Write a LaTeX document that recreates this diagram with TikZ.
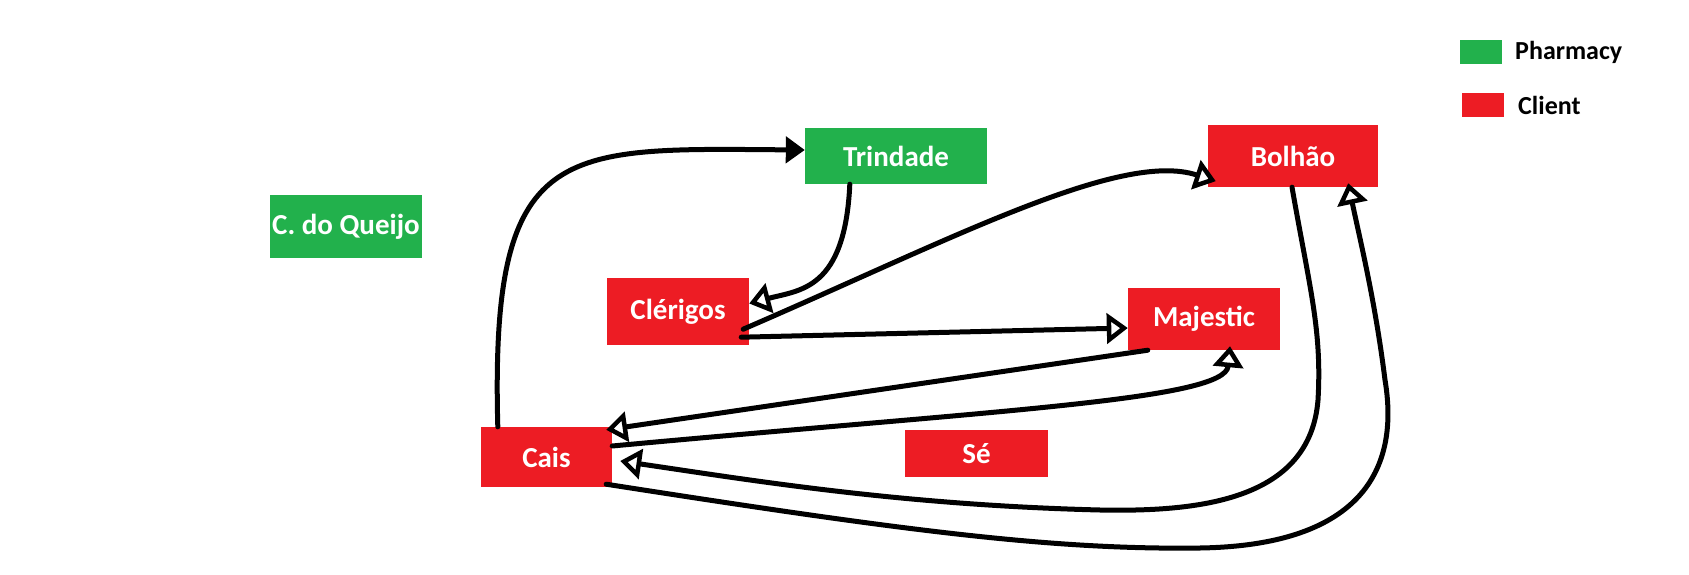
\documentclass[tikz,border=0pt]{standalone}
\usepackage{fontspec}
\setmainfont{Carlito}
\usetikzlibrary{arrows.meta,calc}
\definecolor{pharmgreen}{RGB}{34,177,76}
\definecolor{clientred}{RGB}{237,28,36}
\tikzset{
  place/.style={inner sep=0pt, text=white, font=\fontsize{29}{31}\selectfont\bfseries},
  pharmacy/.style={place, fill=pharmgreen},
  client/.style={place, fill=clientred},
  link/.style={line width=5pt, line cap=round, -{Triangle[open,length=21pt,width=30pt,line width=4.5pt]}},
  key/.style={inner sep=0pt, minimum width=42pt, minimum height=24pt},
  keytext/.style={anchor=west, inner sep=0pt, font=\fontsize{26}{28}\selectfont\bfseries}
}
\begin{document}
\begin{tikzpicture}[x=1pt, y=-1pt]
\useasboundingbox (0,0) rectangle (1689,575);
% places
\node[pharmacy, minimum width=152pt, minimum height=63pt] (queijo) at (346,226.5) {C. do Queijo};
\node[pharmacy, minimum width=182pt, minimum height=56pt] (trindade) at (896,156) {Trindade};
\node[client, minimum width=170pt, minimum height=62pt] (bolhao) at (1293,156) {Bolhão};
\node[client, minimum width=142pt, minimum height=67pt] (clerigos) at (678,311.5) {Clérigos};
\node[client, minimum width=152pt, minimum height=62pt] (majestic) at (1204,319) {Majestic};
\node[client, minimum width=131pt, minimum height=60pt] (cais) at (546.5,457) {Cais};
\node[client, minimum width=143pt, minimum height=47pt] (se) at (976.5,453.5) {Sé};
% legend
\node[key, fill=pharmgreen] (keypharm) at (1481,52) {};
\node[keytext] (keypharmtext) at (1515,52) {Pharmacy};
\node[key, fill=clientred] (keyclient) at (1482.5,105) {};
\node[keytext] (keyclienttext) at (1518,105) {Client};
% links
\draw[link, -{Triangle[length=19pt,width=26pt]}] ($(cais.north west)+(17,0)$)
  .. controls (490,140) and (560,148) .. ($(trindade.west)+(0,-6)$);
\draw[link] ($(trindade.south west)+(45,0)$)
  .. controls (845,290) and (800,290) .. ($(clerigos.east)+(0,-8)$);
\draw[link] ($(clerigos.south east)+(-6,-16)$)
  .. controls (950,240) and (1120,150) .. ($(bolhao.south west)+(8,-6)$);
\draw[link] ($(clerigos.south east)+(-8,-8)$) -- ($(majestic.west)+(0,9)$);
\draw[link] ($(majestic.south west)+(20,0)$) -- ($(cais.north east)+(-6,3)$);
\draw[link] ($(cais.east)+(0,-11)$)
  .. controls (1000,410) and (1225,400) .. ($(majestic.south)+(26,-4)$);
\draw[link] ($(bolhao.south)+(-1,0)$)
  .. controls (1310,290) and (1322,330) .. (1318,400)
  .. controls (1310,500) and (1200,512) .. (1100,510)
  .. controls (900,505) and (750,480) .. ($(cais.east)+(8,4)$);
\draw[link] ($(cais.south east)+(-6,-3)$)
  .. controls (900,530) and (1050,550) .. (1200,548)
  .. controls (1390,545) and (1395,440) .. (1385,380)
  .. controls (1375,300) and (1360,240) .. ($(bolhao.south east)+(-30,-4)$);
\end{tikzpicture}
\end{document}
